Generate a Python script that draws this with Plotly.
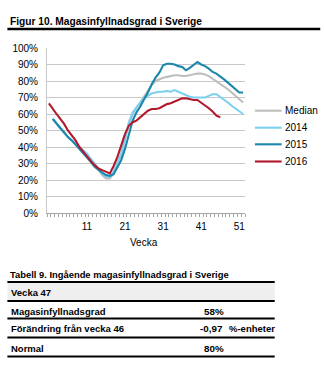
import plotly.graph_objects as go

weeks = list(range(1, 53))

median = [None, 57, 54, 51, 48.5, 46, 44, 42, 40, 38, 35.5, 32.5, 29.5, 26.5, 23, 21,
          21, 24, 29, 35, 45, 54, 60, 64, 67, 70.5, 74, 77.5, 80, 81, 82, 82.5,
          83, 83.5, 83.5, 83, 83, 83.5, 84, 84.5, 84.5, 84, 83, 81.5, 80, 78.5,
          77, 75, 73, 71, 69, 67]
y2014 = [None, 57, 54, 51, 48.5, 46, 44, 42, 40, 38, 36, 33, 30, 27, 24, 22,
         22, 25, 30, 36, 45, 55, 61, 64, 67, 69.5, 71, 72.5, 73, 73.5, 73.5, 74,
         73.5, 74.5, 73.5, 72.5, 71.5, 70.5, 70, 70, 70, 70, 71, 72, 72, 70.5,
         69, 67, 65, 63.5, 62, 60]
y2015 = [None, 57, 54, 51.5, 49, 46, 44, 41.5, 38.5, 36, 33.5, 31, 28, 26, 24.5, 23,
         22.5, 23.5, 27.5, 32, 39, 48, 56, 61, 64.5, 69, 73, 78, 82, 85, 89.5, 90.5,
         90.5, 90, 89, 88.5, 86.5, 88, 90, 91.5, 90, 89, 87.5, 85.5, 84.5, 83,
         81, 79, 77, 74.5, 73, 73]
y2016 = [66.5, 63, 60, 57, 54, 50, 47, 44, 40, 37, 34, 31.5, 29, 27, 26, 25,
         24, 28.5, 34, 41, 48, 53, 55, 56, 58, 60, 62, 63, 63, 63.5, 65, 66,
         66.5, 67.5, 68.5, 69.5, 69.5, 69, 68.5, 68.5, 67, 65.5, 63.5, 61.5, 59, 58]

series_names = ["Median", "2014", "2015", "2016"]
series_values = [median, y2014, y2015, y2016]
series_colors = ["#BEBEBE", "#7DD0F0", "#1B87AB", "#B3192D"]

xtick_vals = [11, 21, 31, 41, 51]

fig_title = "Figur 10. Magasinfyllnadsgrad i Sverige"
table_title = "Tabell 9. Ingående magasinfyllnadsgrad i Sverige"
table_header = "Vecka 47"
table_rows = [("Magasinfyllnadsgrad", "58%", ""),
              ("Förändring från vecka 46", "-0,97", "%-enheter"),
              ("Normal", "80%", "")]

W, H = 324, 377
L, R, T, B = 45, 245, 48, 213
FONT = "Liberation Sans, Arial, sans-serif"


def px(X):
    return (X - L) / (R - L)


def py(Y):
    return (B - Y) / (B - T)


fig = go.Figure()
for name, vals, col in zip(series_names, series_values, series_colors):
    fig.add_trace(go.Scatter(x=weeks[:len(vals)], y=vals, mode="lines", name=name,
                             line=dict(color=col, width=2.1), connectgaps=False,
                             showlegend=False))

fig.update_layout(
    width=W, height=H,
    margin=dict(l=L, r=W - R, t=T, b=H - B, pad=0),
    paper_bgcolor="white", plot_bgcolor="white",
    font=dict(family=FONT, size=10, color="#000000"),
    showlegend=False,
    xaxis=dict(range=[0.5, 52.5], tickvals=xtick_vals, ticks="", showgrid=False,
               zeroline=False, showline=True, linecolor="#A6A6A6", linewidth=1,
               tickfont=dict(size=10, family=FONT), ticklabelstandoff=4,
               minor=dict(ticks="outside", tick0=0.5, dtick=1, ticklen=3,
                          tickcolor="#A6A6A6", showgrid=False)),
    yaxis=dict(range=[0, 100], dtick=10, ticksuffix="%", showgrid=True,
               gridcolor="#C8C8C8", gridwidth=1, zeroline=False, showline=True,
               linecolor="#C8C8C8", linewidth=1, ticks="",
               tickfont=dict(size=10, family=FONT), ticklabelstandoff=6),
)

ann = []
shapes = []

# custom legend
leg_y = [110.7, 127.7, 144.3, 161.5]
for name, col, Yl in zip(series_names, series_colors, leg_y):
    shapes.append(dict(type="line", xref="paper", yref="paper", x0=px(255), x1=px(282),
                       y0=py(Yl), y1=py(Yl), line=dict(color=col, width=2.1)))
    ann.append(dict(text=name, x=px(283), y=py(Yl), xref="paper", yref="paper",
                    xanchor="left", yanchor="middle", showarrow=False,
                    font=dict(size=10, family=FONT)))

ann.append(dict(text="<b>" + fig_title + "</b>", x=px(6), y=py(21), xref="paper", yref="paper",
                xanchor="left", yanchor="middle", showarrow=False,
                font=dict(size=10.2, family=FONT)))
shapes.append(dict(type="line", xref="paper", yref="paper", x0=px(5), x1=px(321),
                   y0=py(29), y1=py(29), line=dict(color="black", width=2.5)))

ann.append(dict(text="Vecka", x=px(143), y=py(242), xref="paper", yref="paper",
                xanchor="center", yanchor="middle", showarrow=False,
                font=dict(size=10, family=FONT)))

# table
ann.append(dict(text="<b>" + table_title + "</b>", x=px(6), y=py(274), xref="paper", yref="paper",
                xanchor="left", yanchor="middle", showarrow=False,
                font=dict(size=9.4, family=FONT)))
shapes.append(dict(type="rect", xref="paper", yref="paper", x0=px(5), x1=px(275),
                   y0=py(282), y1=py(301), fillcolor="#EFEFEF", line=dict(width=0),
                   layer="below"))
for Yl in [282, 301, 318.5, 337.5, 356.5]:
    shapes.append(dict(type="line", xref="paper", yref="paper", x0=px(5), x1=px(275),
                       y0=py(Yl), y1=py(Yl), line=dict(color="black", width=2)))
ann.append(dict(text="<b>" + table_header + "</b>", x=px(7), y=py(292), xref="paper", yref="paper",
                xanchor="left", yanchor="middle", showarrow=False,
                font=dict(size=9.5, family=FONT)))
row_y = [311.5, 328.5, 348]
val_x = [202, 198, 202]
for (lab, val, unit), Yr, vx in zip(table_rows, row_y, val_x):
    ann.append(dict(text="<b>" + lab + "</b>", x=px(7), y=py(Yr), xref="paper", yref="paper",
                    xanchor="left", yanchor="middle", showarrow=False,
                    font=dict(size=9.5, family=FONT)))
    ann.append(dict(text="<b>" + val + "</b>", x=px(vx), y=py(Yr), xref="paper", yref="paper",
                    xanchor="left", yanchor="middle", showarrow=False,
                    font=dict(size=9.8, family=FONT)))
    if unit:
        ann.append(dict(text="<b>" + unit + "</b>", x=px(227), y=py(Yr), xref="paper", yref="paper",
                        xanchor="left", yanchor="middle", showarrow=False,
                        font=dict(size=9.5, family=FONT)))

fig.update_layout(annotations=ann, shapes=shapes)
fig.write_html("out.html")
